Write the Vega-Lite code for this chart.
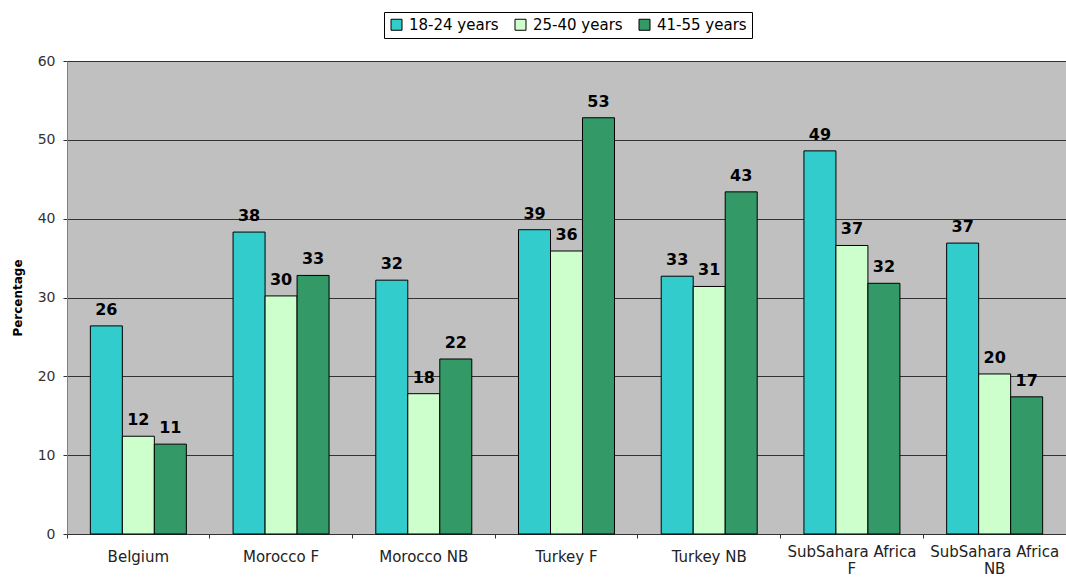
{
  "$schema": "https://vega.github.io/schema/vega-lite/v6.json",
  "width": 999,
  "height": 473,
  "autosize": "none",
  "padding": {"left": 67, "top": 61, "right": 0, "bottom": 47},
  "background": "white",
  "config": {
    "view": {"fill": "#c0c0c0", "stroke": "#808080", "strokeWidth": 1},
    "font": "DejaVu Sans"
  },
  "data": {
    "values": [
      {"group": "Belgium", "age": "18-24 years", "pct": 26.4},
      {"group": "Belgium", "age": "25-40 years", "pct": 12.4},
      {"group": "Belgium", "age": "41-55 years", "pct": 11.4},
      {"group": "Morocco F", "age": "18-24 years", "pct": 38.3},
      {"group": "Morocco F", "age": "25-40 years", "pct": 30.2},
      {"group": "Morocco F", "age": "41-55 years", "pct": 32.8},
      {"group": "Morocco NB", "age": "18-24 years", "pct": 32.2},
      {"group": "Morocco NB", "age": "25-40 years", "pct": 17.8},
      {"group": "Morocco NB", "age": "41-55 years", "pct": 22.2},
      {"group": "Turkey F", "age": "18-24 years", "pct": 38.6},
      {"group": "Turkey F", "age": "25-40 years", "pct": 35.9},
      {"group": "Turkey F", "age": "41-55 years", "pct": 52.8},
      {"group": "Turkey NB", "age": "18-24 years", "pct": 32.7},
      {"group": "Turkey NB", "age": "25-40 years", "pct": 31.4},
      {"group": "Turkey NB", "age": "41-55 years", "pct": 43.4},
      {"group": "SubSahara Africa F", "age": "18-24 years", "pct": 48.6},
      {"group": "SubSahara Africa F", "age": "25-40 years", "pct": 36.6},
      {"group": "SubSahara Africa F", "age": "41-55 years", "pct": 31.8},
      {"group": "SubSahara Africa NB", "age": "18-24 years", "pct": 36.9},
      {"group": "SubSahara Africa NB", "age": "25-40 years", "pct": 20.3},
      {"group": "SubSahara Africa NB", "age": "41-55 years", "pct": 17.4}
    ]
  },
  "encoding": {
    "x": {
      "field": "group",
      "type": "nominal",
      "sort": ["Belgium", "Morocco F", "Morocco NB", "Turkey F", "Turkey NB", "SubSahara Africa F", "SubSahara Africa NB"],
      "scale": {"paddingInner": 0, "paddingOuter": 0},
      "axis": {
        "title": null,
        "labelAngle": 0,
        "labelFontSize": 15,
        "labelColor": "#222222",
        "labelPadding": {
          "condition": {"test": "indexof(datum.value, 'SubSahara Africa ') == 0", "value": 6},
          "value": 11
        },
        "labelLineHeight": 17,
        "labelExpr": "indexof(datum.label, 'SubSahara Africa ') == 0 ? ['SubSahara Africa', replace(datum.label, 'SubSahara Africa ', '')] : datum.label",
        "bandPosition": 0,
        "tickSize": 4,
        "tickColor": "#333333",
        "domainColor": "#333333",
        "grid": false
      }
    },
    "xOffset": {
      "field": "age",
      "type": "nominal",
      "sort": ["18-24 years", "25-40 years", "41-55 years"],
      "scale": {"paddingInner": 0, "paddingOuter": 0.73}
    },
    "y": {
      "field": "pct",
      "type": "quantitative",
      "scale": {"domain": [0, 60], "nice": false},
      "axis": {
        "values": [0, 10, 20, 30, 40, 50, 60],
        "grid": true,
        "gridColor": "#333333",
        "gridWidth": 1,
        "domainColor": "#808080",
        "tickColor": "#333333",
        "tickSize": 4,
        "labelFontSize": 14,
        "labelColor": "#333333",
        "labelPadding": 8,
        "title": "Percentage",
        "titleFontSize": 12,
        "titleFontWeight": "bold",
        "titleColor": "#000000",
        "titleAngle": -90,
        "titleAlign": "center",
        "titleBaseline": "bottom",
        "titleX": -43,
        "titleY": 236.5
      }
    }
  },
  "layer": [
    {
      "mark": {"type": "bar", "stroke": "#000000", "strokeWidth": 1},
      "encoding": {
        "color": {
          "field": "age",
          "type": "nominal",
          "scale": {
            "domain": ["18-24 years", "25-40 years", "41-55 years"],
            "range": ["#33cccc", "#ccffcc", "#339966"]
          },
          "legend": {
            "title": null,
            "orient": "none",
            "direction": "horizontal",
            "legendX": 317,
            "legendY": -49,
            "fillColor": "#ffffff",
            "strokeColor": "#000000",
            "padding": 5,
            "symbolType": "square",
            "symbolSize": 121,
            "symbolStrokeColor": "#000000",
            "symbolStrokeWidth": 1,
            "symbolOpacity": 1,
            "labelFontSize": 15,
            "labelColor": "#000000",
            "labelOffset": 5,
            "columnPadding": 14
          }
        }
      }
    },
    {
      "mark": {
        "type": "text",
        "baseline": "alphabetic",
        "dy": -11,
        "fontSize": 16,
        "fontWeight": "bold",
        "color": "#000000"
      },
      "encoding": {
        "text": {"field": "pct", "type": "quantitative", "format": ".0f"}
      }
    }
  ]
}
